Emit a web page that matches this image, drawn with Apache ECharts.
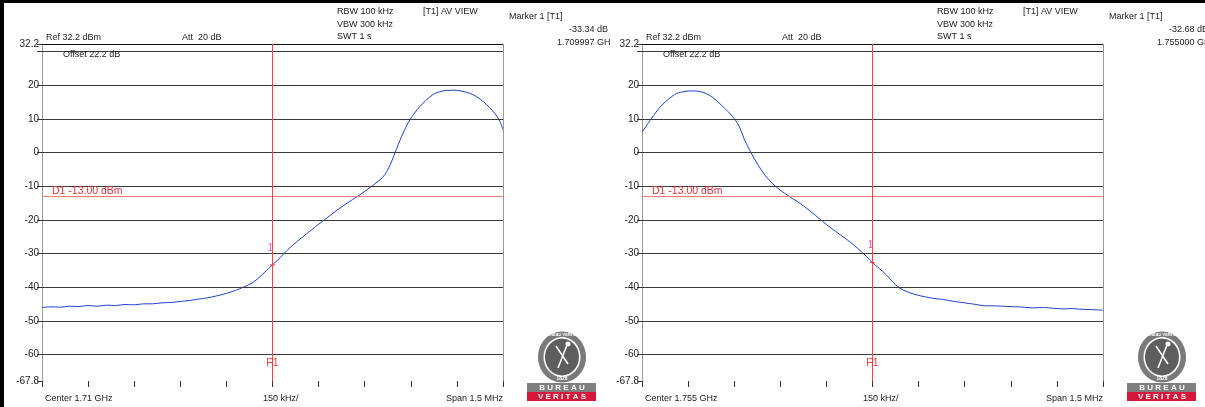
<!DOCTYPE html>
<html>
<head>
<meta charset="utf-8">
<script src="https://cdn.jsdelivr.net/npm/echarts@6/dist/echarts.min.js"></script>
<style>
  html, body { margin: 0; padding: 0; background: #fff; }
  #chart { width: 1205px; height: 407px; }
</style>
</head>
<body>
<div id="chart"></div>
<script>
// frequency offset from center (kHz) and level (dBm)
var leftFreq = [-750, -720, -690, -660, -630, -600, -570, -540, -510, -480, -450, -420, -390, -360, -330, -300, -270, -240, -210, -180, -150, -120, -96, -70, -50, -25, 0, 25, 50, 80, 110, 140, 170, 200, 230, 260, 290, 320, 340, 358, 372, 384, 394, 404, 425, 447, 480, 522, 550, 567, 590, 610, 630, 652, 675, 697, 715, 730, 742, 750];
var leftLevel = [-46.0, -45.8, -45.9, -45.6, -45.7, -45.4, -45.6, -45.3, -45.4, -45.1, -45.2, -44.9, -44.9, -44.6, -44.5, -44.2, -43.9, -43.5, -43.1, -42.5, -41.8, -40.9, -40.0, -38.9, -37.6, -35.5, -33.3, -31.2, -28.8, -26.4, -24.2, -22.0, -19.9, -17.8, -15.8, -14.0, -12.2, -10.2, -8.8, -7.4, -5.6, -3.4, -1.2, 1.2, 5.8, 9.7, 13.7, 17.2, 18.2, 18.4, 18.5, 18.3, 17.9, 17.2, 15.9, 14.2, 12.5, 10.8, 8.8, 6.8];

var rightFreq = [-750, -720, -688, -644, -618, -589, -557, -525, -482, -449, -430, -417, -395, -373, -351, -330, -312, -295, -278, -260, -238, -210, -185, -163, -135, -105, -75, -50, -20, 0, 22, 45, 65, 88, 115, 142, 170, 200, 228, 260, 299, 330, 370, 400, 440, 478, 520, 560, 586, 620, 650, 674, 710, 750];
var rightLevel = [6.0, 10.0, 13.8, 17.2, 18.0, 18.3, 18.0, 16.7, 13.2, 10.0, 7.0, 3.9, -0.1, -3.6, -6.6, -8.8, -10.3, -11.5, -12.6, -13.7, -14.9, -16.9, -18.7, -20.4, -22.4, -24.4, -26.4, -28.3, -30.8, -32.7, -34.4, -36.3, -38.3, -40.2, -41.4, -42.2, -42.8, -43.3, -43.6, -44.1, -44.6, -45.0, -45.5, -45.5, -45.7, -45.8, -46.1, -46.0, -46.2, -46.4, -46.3, -46.5, -46.6, -46.8];

var yTickVals = [32.2, 30, 20, 10, 0, -10, -20, -30, -40, -50, -60, -67.8];
var yLabelVals = [32.2, 20, 10, 0, -10, -20, -30, -40, -50, -60, -67.8];
var gridLevels = [30, 20, 10, 0, -10, -20, -30, -40, -50, -60];
var limitLevel = -13;
var markerFreq = 0;
var markerLevels = [-33.34, -32.68];

var panels = [
    { dx: 0, center: 'Center 1.71 GHz', mLevel: '-33.34 dB', mFreq: '1.709997 GHz' },
    { dx: 600, center: 'Center 1.755 GHz', mLevel: '-32.68 dB', mFreq: '1.755000 GHz' }
];

var font = 'Liberation Sans, Arial, sans-serif';
var chart = echarts.init(document.getElementById('chart'));

function lines() {
    var d = gridLevels.map(function(v) {
        return { yAxis: v, lineStyle: { color: '#3a3a3a', width: 1, type: 'solid' }, label: { show: false } };
    });
    d.push({ yAxis: 32.2, lineStyle: { color: '#111', width: 1, type: 'solid' }, label: { show: false } });
    d.push({ xAxis: 750, lineStyle: { color: '#999', width: 1, type: 'solid' }, label: { show: false } });
    d.push({
        yAxis: limitLevel,
        lineStyle: { color: '#ff7878', width: 1, type: 'solid' },
        label: { show: true, position: 'insideStartTop', formatter: 'D1 -13.00 dBm', color: '#e8303a', fontSize: 10.5, fontFamily: font, distance: [10, 0] }
    });
    d.push({ xAxis: markerFreq, lineStyle: { color: '#ff4040', width: 1, type: 'solid', opacity: 1 }, label: { show: false } });
    return d;
}

function traceSeries(i, freq, level) {
    return {
        type: 'line',
        xAxisIndex: i,
        yAxisIndex: i,
        data: freq.map(function(f, k) { return [f, level[k]]; }),
        showSymbol: false,
        smooth: 0.3,
        lineStyle: { color: '#1f3fd4', width: 1 },
        animation: false,
        silent: true,
        markLine: { silent: true, symbol: ['none', 'none'], animation: false, data: lines() },
        markPoint: {
            silent: true,
            animation: false,
            data: [
                { coord: [markerFreq, markerLevels[i]], symbol: 'rect', symbolSize: [5, 1], itemStyle: { color: '#ff3030' },
                  label: { show: true, position: 'inside', formatter: '1', color: '#e050c0', fontSize: 10, offset: [-2, -17] } },
                { coord: [markerFreq, -62.5], symbol: 'circle', symbolSize: 1, itemStyle: { color: 'rgba(0,0,0,0)' },
                  label: { show: true, position: 'inside', formatter: 'F1', color: '#ff4040', fontSize: 10.5, fontFamily: font } }
            ]
        }
    };
}

function txt(x, y, s, align) {
    return {
        type: 'text', x: x, y: y, silent: true, z: 10,
        style: { text: s, fill: '#222', font: '9px ' + font, textVerticalAlign: 'middle', textAlign: align || 'left' }
    };
}

function logo(dx) {
    var cx = 562 + dx;
    return {
        type: 'group', silent: true,
        children: [
            { type: 'ellipse', shape: { cx: cx, cy: 357, rx: 24, ry: 25.5 }, style: { fill: '#7a7a7a' } },
            { type: 'ellipse', shape: { cx: cx, cy: 357, rx: 18.5, ry: 20 }, style: { fill: '#fff' } },
            { type: 'ellipse', shape: { cx: cx, cy: 357, rx: 17, ry: 18.5 }, style: { fill: '#5e5e5e' } },
            { type: 'text', x: cx, y: 335, style: { text: 'BUREAU VERITAS', fill: '#fff', font: 'bold 4px ' + font, textAlign: 'center', textVerticalAlign: 'middle' } },
            { type: 'text', x: cx, y: 379, style: { text: '1828', fill: '#fff', font: 'bold 5px ' + font, textAlign: 'center', textVerticalAlign: 'middle' } },
            { type: 'line', shape: { x1: cx - 6, y1: 346, x2: cx + 6, y2: 364 }, style: { stroke: '#fff', lineWidth: 1.5 } },
            { type: 'line', shape: { x1: cx + 5, y1: 345, x2: cx - 4, y2: 368 }, style: { stroke: '#fff', lineWidth: 1.5 } },
            { type: 'circle', shape: { cx: cx + 6, cy: 344, r: 2.5 }, style: { fill: '#fff' } },
            { type: 'rect', shape: { x: 527 + dx, y: 383, width: 69, height: 9 }, style: { fill: '#7f7f7f' } },
            { type: 'rect', shape: { x: 527 + dx, y: 392, width: 69, height: 9 }, style: { fill: '#d6183a' } },
            { type: 'text', x: cx, y: 387.5, style: { text: 'B U R E A U', fill: '#fff', font: 'bold 8px ' + font, textAlign: 'center', textVerticalAlign: 'middle' } },
            { type: 'text', x: cx, y: 396.5, style: { text: 'V E R I T A S', fill: '#fff', font: 'bold 8px ' + font, textAlign: 'center', textVerticalAlign: 'middle' } }
        ]
    };
}

var graphics = [
    { type: 'rect', shape: { x: 0, y: 0, width: 1205, height: 3 }, style: { fill: '#000' }, silent: true, z: 20 },
    { type: 'rect', shape: { x: 0, y: 0, width: 4, height: 407 }, style: { fill: '#000' }, silent: true, z: 20 }
];
panels.forEach(function(p) {
    var dx = p.dx;
    graphics.push(txt(46 + dx, 38, 'Ref 32.2 dBm'));
    graphics.push(txt(182 + dx, 38, 'Att  20 dB'));
    graphics.push(txt(63 + dx, 55, 'Offset 22.2 dB'));
    graphics.push(txt(337 + dx, 12, 'RBW 100 kHz'));
    graphics.push(txt(337 + dx, 24.5, 'VBW 300 kHz'));
    graphics.push(txt(337 + dx, 37, 'SWT 1 s'));
    graphics.push(txt(423 + dx, 12, '[T1] AV VIEW'));
    graphics.push(txt(509 + dx, 17, 'Marker 1 [T1]'));
    graphics.push(txt(608 + dx, 30, p.mLevel, 'right'));
    graphics.push(txt(557 + dx, 43, p.mFreq));
    graphics.push(txt(45 + dx, 399, p.center));
    graphics.push(txt(263 + dx, 399, '150 kHz/'));
    graphics.push(txt(503 + dx, 399, 'Span 1.5 MHz', 'right'));
    graphics.push(logo(dx));
});
// the left screenshot is cut off at its right edge
graphics.push({ type: 'rect', shape: { x: 610, y: 22, width: 7, height: 27 }, style: { fill: '#fff' }, silent: true, z: 15 });

function xAxis(i) {
    return {
        gridIndex: i, type: 'value', min: -750, max: 750, interval: 150,
        axisLine: { show: true, onZero: false, lineStyle: { color: 'rgba(0,0,0,0)' } },
        axisTick: { show: true, length: 6, lineStyle: { color: '#333' } },
        axisLabel: { show: false },
        splitLine: { show: false }
    };
}
function yAxis(i) {
    return {
        gridIndex: i, type: 'value', min: -67.8, max: 32.2,
        axisLine: { show: true, onZero: false, lineStyle: { color: '#999' } },
        axisTick: { show: true, length: 5, customValues: yTickVals, lineStyle: { color: '#333' } },
        axisLabel: { customValues: yLabelVals, fontSize: 10, color: '#222', margin: 3, fontFamily: font },
        splitLine: { show: false }
    };
}

var option = {
    animation: false,
    backgroundColor: '#fff',
    textStyle: { fontFamily: font },
    grid: [
        { left: 42, top: 44, width: 461, height: 337 },
        { left: 642, top: 44, width: 461, height: 337 }
    ],
    xAxis: [xAxis(0), xAxis(1)],
    yAxis: [yAxis(0), yAxis(1)],
    series: [traceSeries(0, leftFreq, leftLevel), traceSeries(1, rightFreq, rightLevel)],
    graphic: graphics
};
chart.setOption(option);
</script>
</body>
</html>
